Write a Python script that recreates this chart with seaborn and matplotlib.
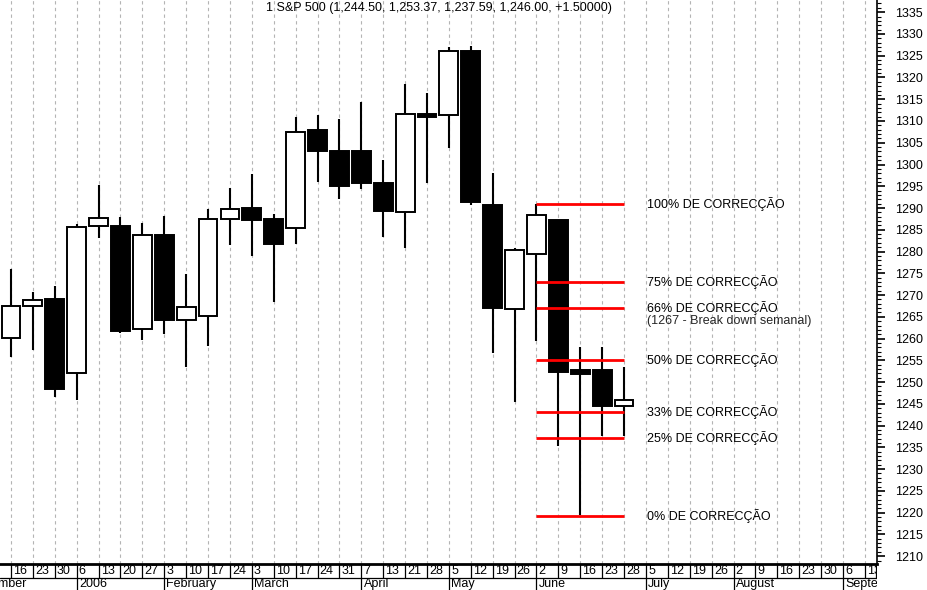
import numpy as np
import matplotlib
matplotlib.use("Agg")
import matplotlib.pyplot as plt
from matplotlib.ticker import MultipleLocator
import seaborn as sns

# weekly S&P 500 candles, Dec 16 2005 -> Jun 28 2006
week_labels = ["16", "23", "30", "6", "13", "20", "27", "3", "10", "17", "24",
               "3", "10", "17", "24", "31", "7", "13", "21", "28", "5", "12",
               "19", "26", "2", "9", "16", "23", "28", "5", "12", "19", "26",
               "2", "9", "16", "23", "30", "6", "13"]
month_weeks = [-2, 3, 7, 11, 16, 20, 24, 29, 33, 38]
month_names = ["December", "2006", "February", "March", "April", "May",
               "June", "July", "August", "September"]

opens = [1260.1, 1267.5, 1269.1, 1252.0, 1285.8, 1285.8, 1262.1, 1283.9,
         1264.2, 1265.3, 1287.4, 1290.0, 1287.5, 1285.3, 1307.9, 1303.1,
         1303.1, 1295.7, 1289.1, 1311.5, 1311.4, 1326.0, 1290.7, 1266.7,
         1279.4, 1287.2, 1252.8, 1252.8, 1244.50]
highs = [1276.0, 1270.6, 1272.1, 1286.3, 1295.3, 1288.0, 1286.6, 1288.1,
         1274.8, 1289.7, 1294.6, 1297.8, 1288.6, 1310.9, 1311.3, 1310.4,
         1314.3, 1301.0, 1318.5, 1316.5, 1326.9, 1327.2, 1298.0, 1280.7,
         1290.9, 1287.2, 1258.0, 1258.1, 1253.37]
lows = [1255.8, 1257.4, 1246.6, 1246.0, 1283.2, 1261.2, 1259.7, 1261.1,
        1253.5, 1258.3, 1281.5, 1279.0, 1268.5, 1281.7, 1296.0, 1292.0,
        1294.4, 1283.4, 1280.7, 1295.7, 1303.8, 1290.7, 1256.7, 1245.4,
        1259.5, 1235.3, 1219.5, 1237.5, 1237.59]
closes = [1267.4, 1268.8, 1248.5, 1285.6, 1287.8, 1261.8, 1283.9, 1264.3,
          1267.2, 1287.4, 1289.7, 1287.3, 1281.7, 1307.5, 1303.1, 1295.1,
          1295.7, 1289.3, 1311.7, 1311.0, 1326.1, 1291.4, 1267.1, 1280.3,
          1288.5, 1252.4, 1251.8, 1244.6, 1246.00]

# retracement levels drawn from week 24 to week 28
level_names = ["100% DE CORRECÇÃO", "75% DE CORRECÇÃO", "66% DE CORRECÇÃO",
               "50% DE CORRECÇÃO", "33% DE CORRECÇÃO", "25% DE CORRECÇÃO",
               "0% DE CORRECÇÃO"]
level_values = [1290.9, 1273.1, 1267.1, 1255.1, 1243.2, 1237.1, 1219.3]
level_weeks = (24, 28)
note = "(1267 - Break down semanal)"
title = "1 S&P 500 (1,244.50, 1,253.37, 1,237.59, 1,246.00, +1.50000)"

sns.set_theme(style="white")
plt.rcParams["font.family"] = ["Liberation Sans", "DejaVu Sans"]
fs = 9

W, H = 928, 590
fig = plt.figure(figsize=(W / 100, H / 100), dpi=100)
ax = fig.add_axes([0, 26 / H, 877 / W, (H - 26) / H])
dax = fig.add_axes([0, 0, 877 / W, 26 / H])

x = np.arange(len(opens))
o, c = np.array(opens), np.array(closes)
up = c >= o

ax.set_xlim(-0.5, 39.55)
ax.set_ylim(1208.2, 1337.8)

# dashed weekly grid
ax.set_xticks(np.arange(len(week_labels)))
ax.grid(axis="x", color="#b4b4b4", lw=0.8, ls=(0, (3, 3)), zorder=0)
ax.grid(axis="y", visible=False)
ax.tick_params(axis="x", length=0, labelbottom=False)

# candles
ax.vlines(x, lows, highs, color="black", lw=1.5, zorder=2)
ax.bar(x, np.abs(c - o), width=0.86, bottom=np.minimum(o, c),
       color=np.where(up, "white", "black"), edgecolor="black",
       linewidth=1.4, zorder=3)

# retracement lines + labels
ax.hlines(level_values, level_weeks[0], level_weeks[1], color="red", lw=2, zorder=4)
for name, val in zip(level_names, level_values):
    ax.text(29.05, val, name, ha="left", va="center", fontsize=fs, color="black")
ax.annotate(note, (29.05, level_values[2]), xytext=(0, -9.5),
            textcoords="offset points", ha="left", va="center", fontsize=fs)

ax.text(0.5, 1 - 8 / 564, title, transform=ax.transAxes, ha="center",
        va="center", fontsize=fs, color="black")

# right price axis
ax.yaxis.tick_right()
ax.yaxis.set_major_locator(MultipleLocator(5))
ax.yaxis.set_minor_locator(MultipleLocator(1))
ax.tick_params(axis="y", which="both", left=False, right=True,
               labelleft=False, labelright=True, direction="out", colors="black")
ax.tick_params(axis="y", which="major", length=5.8, width=1.2, pad=7.5, labelsize=fs)
ax.tick_params(axis="y", which="minor", length=3, width=0.8)

for s in ["top", "left"]:
    ax.spines[s].set_visible(False)
ax.spines["right"].set_color("black")
ax.spines["right"].set_linewidth(1.2)
ax.spines["bottom"].set_color("black")
ax.spines["bottom"].set_linewidth(2)

# date axis boxes
dax.set_xlim(ax.get_xlim())
dax.set_ylim(0, 26)
dax.axis("off")
dax.axhline(12.5, color="black", lw=0.9)
for i, lab in enumerate(week_labels):
    dax.vlines(i, 12.5, 26, color="black", lw=0.9)
    dax.text(i + 0.1, 19, lab, ha="left", va="center", fontsize=fs,
             color="black", clip_on=True)
dax.vlines(39.52, 12.5, 26, color="black", lw=0.9)
for w, name in zip(month_weeks, month_names):
    dax.vlines(w, 0, 12.5, color="black", lw=0.9)
    dax.text(w + 0.1, 6, name, ha="left", va="center", fontsize=fs,
             color="black", clip_on=True)

fig.savefig("out.png", dpi=100, facecolor="white")
